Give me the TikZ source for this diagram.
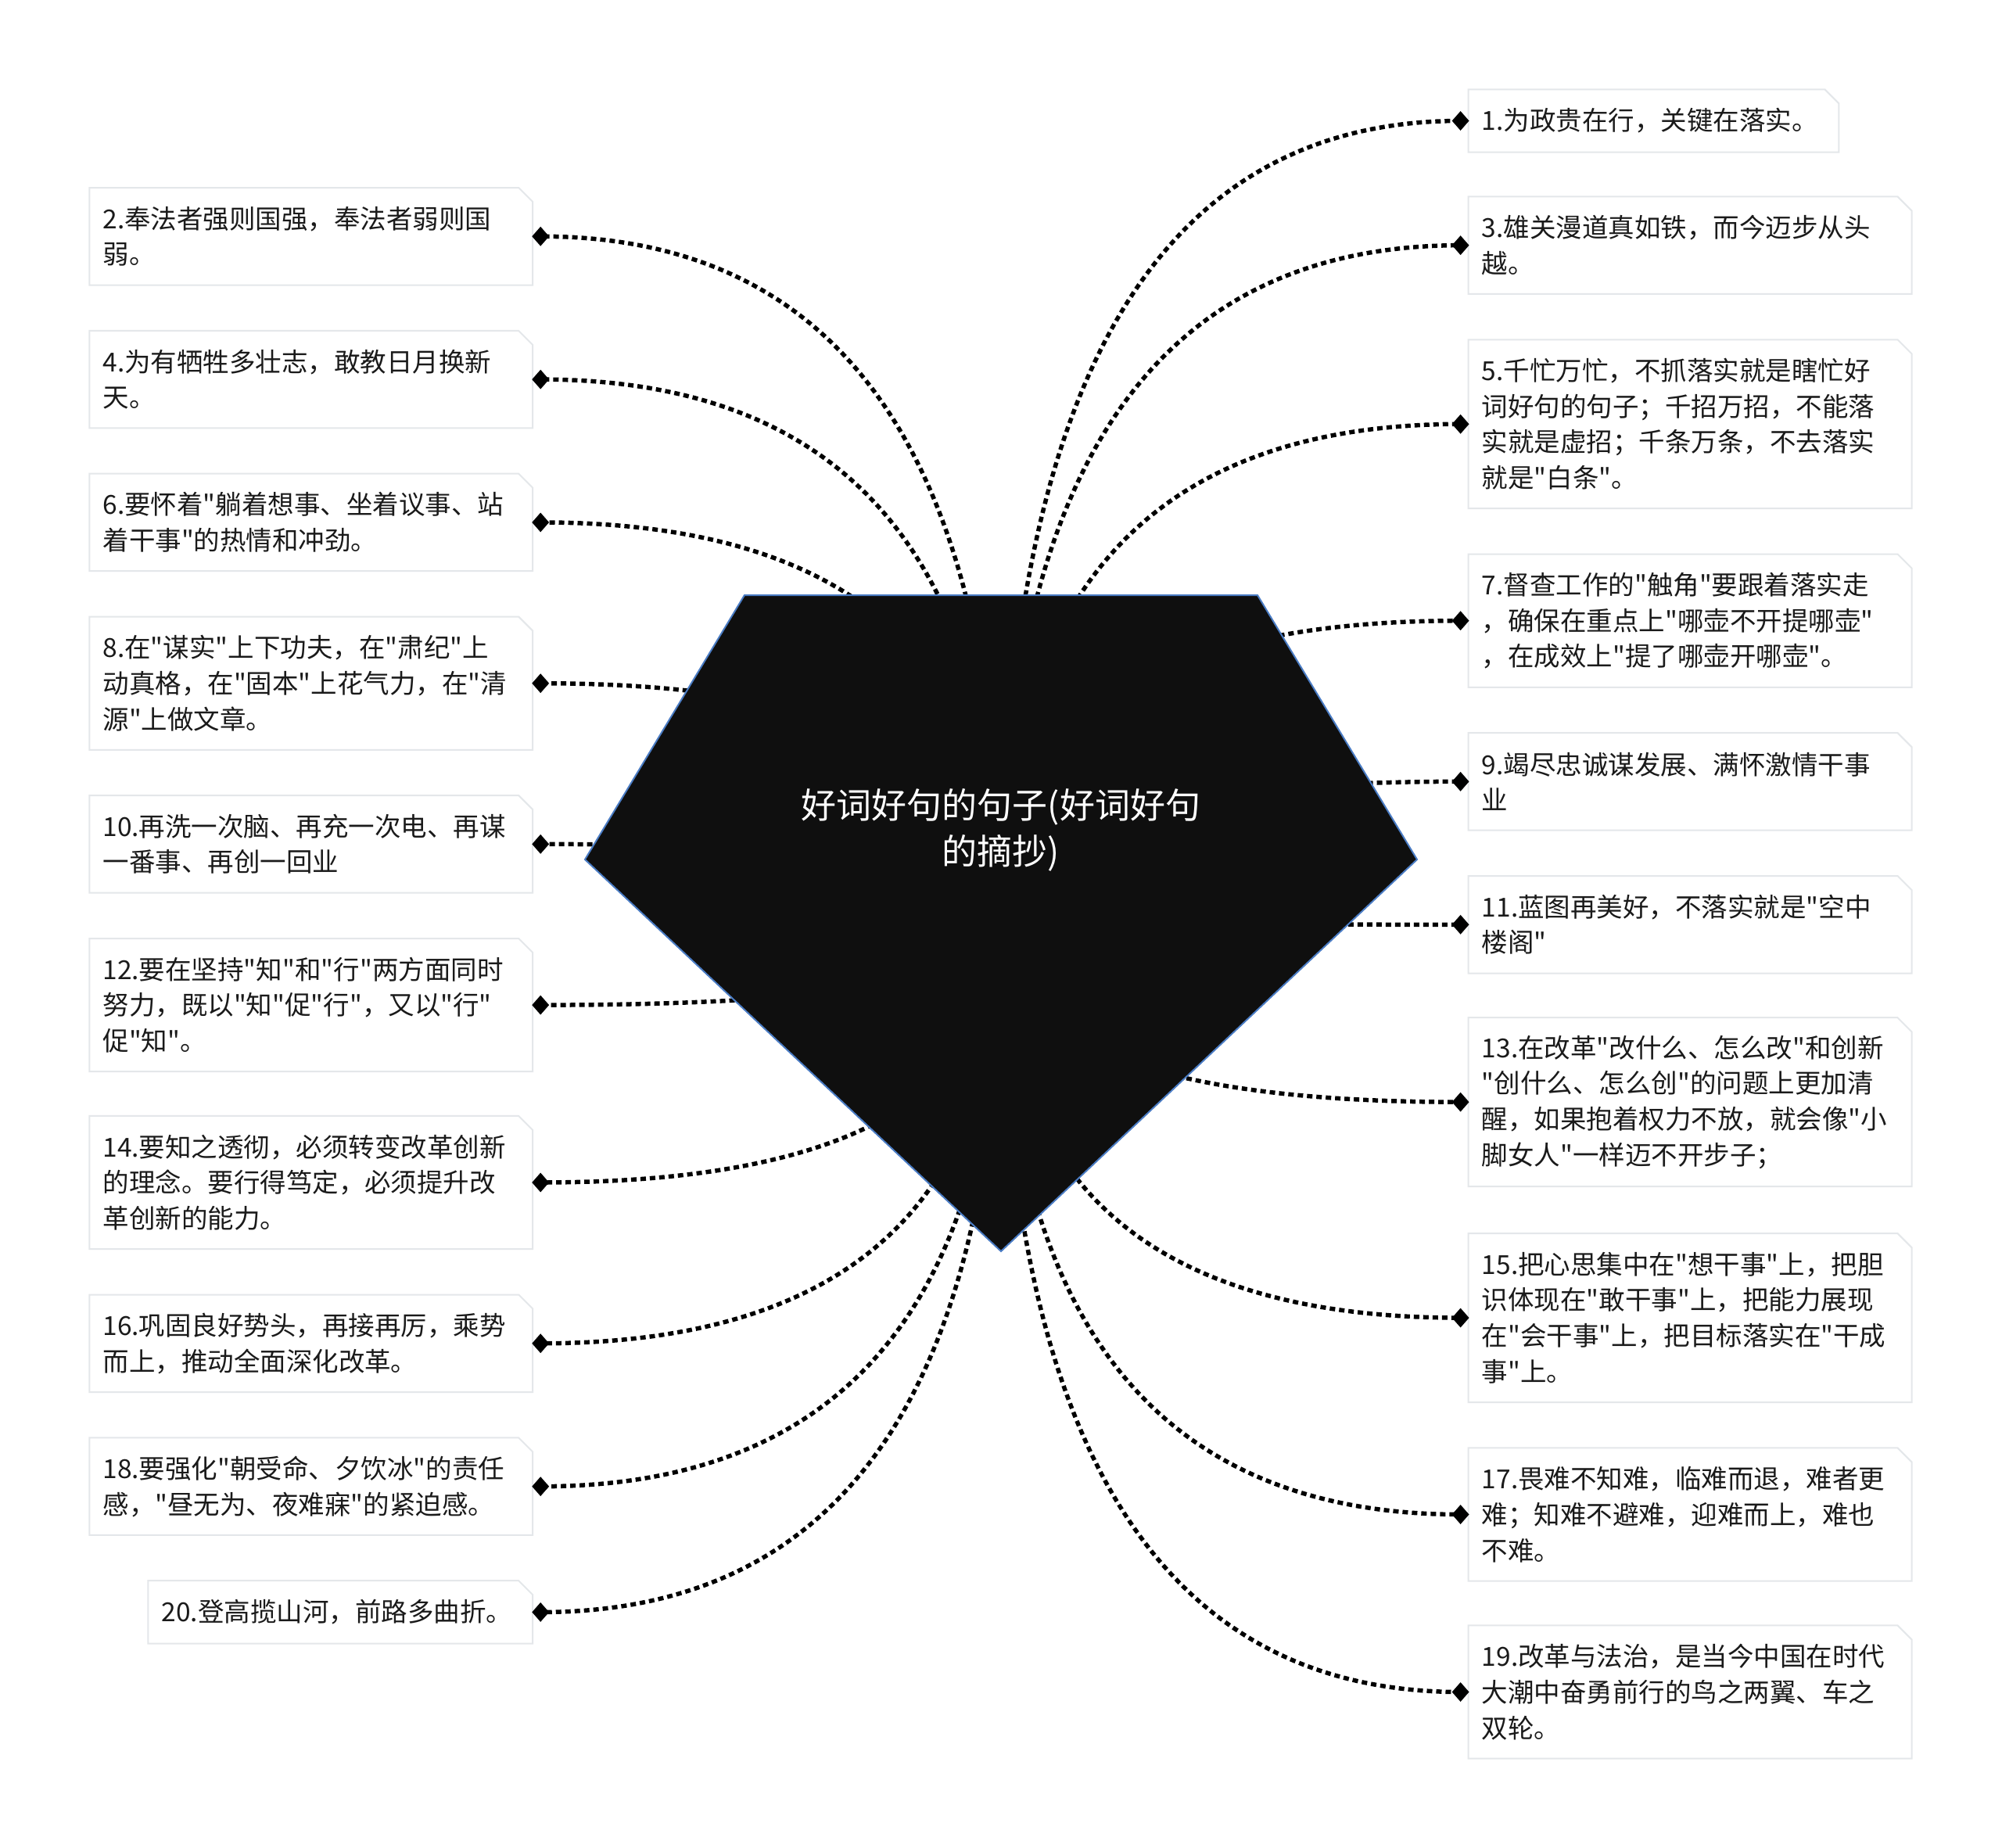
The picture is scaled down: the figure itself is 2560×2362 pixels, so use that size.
\documentclass[tikz,border=0pt]{standalone}
\usepackage{fontspec}
\newfontfamily\cjk{Noto Sans CJK SC}
\usetikzlibrary{calc,backgrounds,shapes.geometric}
\definecolor{txt}{HTML}{1A1A1A}
\definecolor{boxline}{HTML}{E4E7EA}
\definecolor{gemfill}{HTML}{0F0F0F}
\definecolor{gemline}{HTML}{4A7CC4}
\tikzset{
  mmbox/.style={anchor=north west, inner xsep=17pt, inner ysep=0pt, align=left,
    text=txt, font=\cjk\fontsize{33.5}{45.7}\selectfont, text width=532.5pt},
  oneL/.style={minimum height=80pt},
  twoL/.style={minimum height=124.1pt},
  threeL/.style={minimum height=169.8pt},
  fourL/.style={minimum height=215.5pt},
  dmark/.style={diamond, fill=black, inner sep=0pt, minimum width=22pt, minimum height=25pt},
  conn/.style={line width=5.5pt, dash pattern=on 7pt off 5pt, black},
  outline/.style={draw=boxline, line width=2pt},
  roottext/.style={text=white, align=center, font=\cjk\fontsize{45}{59}\selectfont}
}
\begin{document}
\begin{tikzpicture}[x=1pt,y=-1pt]
\useasboundingbox (0,0) rectangle (2560,2362);

% right column
\node[mmbox,oneL,text width=439.4pt] (n1) at (1877.6,114.3) {1.为政贵在行，关键在落实。};
\node[mmbox,twoL] (n3) at (1877.6,251.4) {3.雄关漫道真如铁，而今迈步从头\\越。};
\node[mmbox,fourL] (n5) at (1877.6,434.3) {5.千忙万忙，不抓落实就是瞎忙好\\词好句的句子；千招万招，不能落\\实就是虚招；千条万条，不去落实\\就是"白条"。};
\node[mmbox,threeL] (n7) at (1877.6,708.6) {7.督查工作的"触角"要跟着落实走\\，确保在重点上"哪壶不开提哪壶"\\，在成效上"提了哪壶开哪壶"。};
\node[mmbox,twoL] (n9) at (1877.6,937.1) {9.竭尽忠诚谋发展、满怀激情干事\\业};
\node[mmbox,twoL] (n11) at (1877.6,1120.0) {11.蓝图再美好，不落实就是"空中\\楼阁"};
\node[mmbox,fourL] (n13) at (1877.6,1301.2) {13.在改革"改什么、怎么改"和创新\\"创什么、怎么创"的问题上更加清\\醒，如果抱着权力不放，就会像"小\\脚女人"一样迈不开步子；};
\node[mmbox,fourL] (n15) at (1877.6,1577.1) {15.把心思集中在"想干事"上，把胆\\识体现在"敢干事"上，把能力展现\\在"会干事"上，把目标落实在"干成\\事"上。};
\node[mmbox,threeL] (n17) at (1877.6,1851.4) {17.畏难不知难，临难而退，难者更\\难；知难不避难，迎难而上，难也\\不难。};
\node[mmbox,threeL] (n19) at (1877.6,2078.4) {19.改革与法治，是当今中国在时代\\大潮中奋勇前行的鸟之两翼、车之\\双轮。};

% left column
\node[mmbox,twoL] (n2) at (114.3,240.0) {2.奉法者强则国强，奉法者弱则国\\弱。};
\node[mmbox,twoL] (n4) at (114.3,422.9) {4.为有牺牲多壮志，敢教日月换新\\天。};
\node[mmbox,twoL] (n6) at (114.3,605.7) {6.要怀着"躺着想事、坐着议事、站\\着干事"的热情和冲劲。};
\node[mmbox,threeL] (n8) at (114.3,788.6) {8.在"谋实"上下功夫，在"肃纪"上\\动真格，在"固本"上花气力，在"清\\源"上做文章。};
\node[mmbox,twoL] (n10) at (114.3,1017.1) {10.再洗一次脑、再充一次电、再谋\\一番事、再创一回业};
\node[mmbox,threeL] (n12) at (114.3,1200.0) {12.要在坚持"知"和"行"两方面同时\\努力，既以"知"促"行"，又以"行"\\促"知"。};
\node[mmbox,threeL] (n14) at (114.3,1426.9) {14.要知之透彻，必须转变改革创新\\的理念。要行得笃定，必须提升改\\革创新的能力。};
\node[mmbox,twoL] (n16) at (114.3,1655.5) {16.巩固良好势头，再接再厉，乘势\\而上，推动全面深化改革。};
\node[mmbox,twoL] (n18) at (114.3,1838.4) {18.要强化"朝受命、夕饮冰"的责任\\感，"昼无为、夜难寐"的紧迫感。};
\node[mmbox,oneL,text width=457.4pt] (n20) at (189.4,2021.2) {20.登高揽山河，前路多曲折。};

% box outlines with cut corner
\foreach \i in {1,...,20} {
  \draw[outline] (n\i.south west) -- (n\i.north west) -- ([xshift=-18pt]n\i.north east)
    -- ([yshift=-18pt]n\i.north east) -- (n\i.south east) -- cycle;
}

% diamond markers
\foreach \i in {1,3,5,7,9,11,13,15,17,19} {
  \node[dmark] (m\i) at ($(n\i.west)+(-10,0)$) {};
}
\foreach \i in {2,4,6,8,10,12,14,16,18,20} {
  \node[dmark] (m\i) at ($(n\i.east)+(10,0)$) {};
}

% hub of connectors
\coordinate (hub) at (1280,1180);

% white page and connectors behind everything
\begin{pgfonlayer}{background}
\fill[white] (0,0) rectangle (2560,2362);
\foreach \i in {1,...,20} {
  \coordinate (k\i) at (hub|-m\i);
  \draw[conn] (hub) .. controls ($(hub)!0.6667!(k\i)$) and ($(m\i.center)!0.6667!(k\i)$) .. (m\i.center);
}
\end{pgfonlayer}

% central gem shape
\draw[fill=gemfill, draw=gemline, line width=2pt]
  (952,761) -- (1608,761) -- (1812,1099) -- (1280,1600) -- (748,1099) -- cycle;
\node[roottext] (root) at (1280,1061) {好词好句的句子(好词好句\\的摘抄)};
\end{tikzpicture}
\end{document}
